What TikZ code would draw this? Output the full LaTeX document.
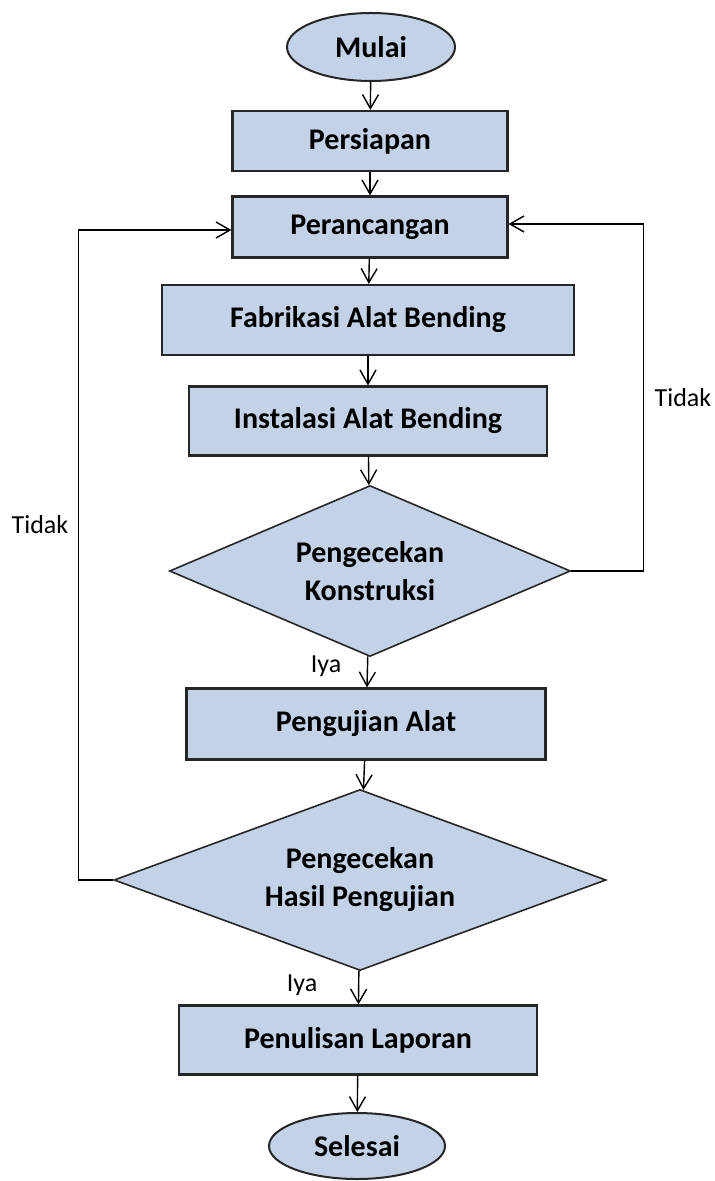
\documentclass[tikz,border=0pt]{standalone}
\usepackage{fontspec}
\setmainfont{Carlito}
\usepackage{xcolor}
\usepackage{tikz}
\usetikzlibrary{shapes.geometric, arrows.meta}
\definecolor{isian}{RGB}{196,210,232}

\begin{document}
\begin{tikzpicture}[x=0.5pt, y=-0.5pt,
    every node/.style={inner sep=0pt, align=center, font=\fontsize{15}{19}\selectfont\bfseries},
    proses/.style={draw=black!85, line width=1.1pt, fill=isian, rectangle},
    ujung/.style={draw=black!85, line width=1pt, fill=isian, ellipse},
    cek/.style={draw=black!85, line width=0.8pt, fill=isian, diamond, aspect=2.5},
    panah/.style={line width=0.7pt, -{Straight Barb[length=7pt,width=8pt]}},
    ket/.style={font=\fontsize{13}{16}\selectfont}]

    \useasboundingbox (0,0) rectangle (715,1181);

    % Alur utama
    \node[ujung, minimum width=84pt, minimum height=34pt] (mulai) at (371,47) {Mulai};
    \node[proses, minimum width=137.5pt, minimum height=30pt] (persiapan) at (370,141) {Persiapan};
    \node[proses, minimum width=137.5pt, minimum height=30.5pt] (perancangan) at (370,227) {Perancangan};
    \node[proses, minimum width=206pt, minimum height=35pt] (fabrikasi) at (368,320) {Fabrikasi Alat Bending};
    \node[proses, minimum width=179pt, minimum height=34.5pt] (instalasi) at (368,421) {Instalasi Alat Bending};
    \node[cek, minimum width=200.5pt, minimum height=85.5pt] (cek1) at (370,571) {Pengecekan\\Konstruksi};
    \node[proses, minimum width=179.5pt, minimum height=35.5pt] (pengujian) at (366,724) {Pengujian Alat};
    \node[cek, minimum width=246pt, minimum height=90.5pt] (cek2) at (360,880) {Pengecekan\\Hasil Pengujian};
    \node[proses, minimum width=179pt, minimum height=34.5pt] (laporan) at (358,1040) {Penulisan Laporan};
    \node[ujung, minimum width=88pt, minimum height=33pt] (selesai) at (357,1146) {Selesai};

    % Panah
    \draw[panah] (mulai) -- (persiapan);
    \draw[panah] (persiapan) -- (perancangan);
    \draw[panah] (perancangan) -- (fabrikasi);
    \draw[panah] (fabrikasi) -- (instalasi);
    \draw[panah] (instalasi) -- (cek1);
    \draw[panah] (cek1) -- (pengujian);
    \draw[panah] (pengujian) -- (cek2);
    \draw[panah] (cek2) -- (laporan);
    \draw[panah] (laporan) -- (selesai);

    % Kembali ke perancangan
    \draw[panah] (cek1.east) -- ++(72,0) |- ([yshift=1.5pt]perancangan.east);
    \draw[panah] (cek2.west) -- ++(-35,0) |- ([yshift=-1.5pt]perancangan.west);

    % Keterangan
    \node[ket] (tidak1) at (683,398) {Tidak};
    \node[ket] (tidak2) at (40,525) {Tidak};
    \node[ket] (iya1) at (326,666) {Iya};
    \node[ket] (iya2) at (302,985) {Iya};
\end{tikzpicture}
\end{document}
